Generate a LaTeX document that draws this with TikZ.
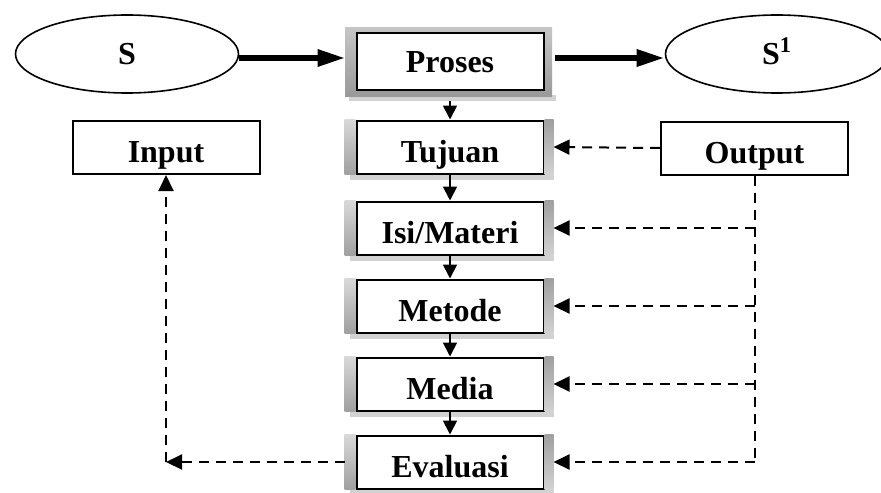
\documentclass[tikz,border=0pt]{standalone}
\usepackage{fontspec}
\setmainfont{Liberation Serif}
\usetikzlibrary{arrows.meta,shapes.geometric}

% grey bevel on the left and right of a step box, with its shadow
\newcommand{\Bingkai}[1]{%
	\fill[gray!35] ([xshift=-3pt]#1.south west) rectangle ([xshift=4.5pt,yshift=-2.5pt]#1.south east);
	\shade[top color=gray!30,bottom color=gray!75] ([xshift=-5.5pt]#1.north west) rectangle (#1.south west);
	\shade[top color=gray!75,bottom color=gray!35] (#1.north east) rectangle ([xshift=4.5pt]#1.south east);
}

\begin{document}
\begin{tikzpicture}[x=0.5pt,y=-0.5pt]
	\tikzstyle{Bulat} = [ellipse,draw,line width=0.8pt,minimum width=111.5pt,minimum height=39pt,text height=11pt,text depth=0pt,font=\bfseries\fontsize{16}{19}\selectfont]
	\tikzstyle{Kotak} = [rectangle,draw,line width=1pt,fill=white,minimum width=93.5pt,minimum height=26.5pt,inner sep=0pt,text height=15pt,text depth=0pt,font=\bfseries\fontsize{16}{19}\selectfont]
	\tikzstyle{Tebal} = [line width=3pt,-{Triangle[length=14pt,width=8pt]}]
	\tikzstyle{Panah} = [line width=0.9pt,-{Triangle[length=7pt,width=7pt]}]
	\tikzstyle{Garis} = [line width=1pt,dash pattern=on 5pt off 3.5pt]
	\tikzstyle{Putus} = [Garis,-{Triangle[length=8pt,width=7.5pt]}]
	\useasboundingbox (0,0) rectangle (881,492);

	% frame round the process box
	\fill[gray!35] (349,95) rectangle (556,101);
	\shade[top color=gray!45,bottom color=gray!80] (345,28) rectangle (552,96);

	\node[Bulat] (s) at (127,54) {S};
	\node[Bulat] (s1) at (777,54) {S\textsuperscript{1}};
	\node[Kotak,minimum height=28.5pt,text height=11.5pt] (proses) at (450,61.5) {Proses};

	\node[Kotak] (input) at (166,147.5) {Input};
	\node[Kotak] (output) at (754.5,148) {Output};

	\node[Kotak] (tujuan) at (450,147) {Tujuan};
	\node[Kotak] (isi) at (450,228) {Isi/Materi};
	\node[Kotak] (metode) at (450,306) {Metode};
	\node[Kotak] (media) at (450,384) {Media};
	\node[Kotak] (evaluasi) at (450,462) {Evaluasi};
	\foreach \n in {tujuan,isi,metode,media,evaluasi}
		\Bingkai{\n};

	\draw[Tebal] ([yshift=-2pt]s.east) -- ([xshift=-5pt,yshift=-2pt]proses.west |- s.east);
	\draw[Tebal] ([xshift=5pt,yshift=-2pt]proses.east |- s1.west) -- ([yshift=-2pt]s1.west);

	\draw[Panah] ([yshift=-5pt]proses.south) -- (tujuan.north);
	\foreach \a/\b in {tujuan/isi,isi/metode,metode/media,media/evaluasi}
		\draw[Panah] (\a) -- (\b);

	% feedback from the output
	\draw[Putus] (output.west) -- ([xshift=4.5pt]tujuan.east);
	\draw[Garis] (output.south) -- (output.south |- evaluasi.east);
	\foreach \n in {isi,metode,media,evaluasi}
		\draw[Putus] (output.south |- \n.east) -- ([xshift=4.5pt]\n.east);

	% evaluation back to the input
	\coordinate (belok) at (input.south |- evaluasi.west);
	\draw[Putus] ([xshift=-5.5pt]evaluasi.west) -- (belok);
	\draw[Putus] (belok) -- (input.south);
\end{tikzpicture}
\end{document}
